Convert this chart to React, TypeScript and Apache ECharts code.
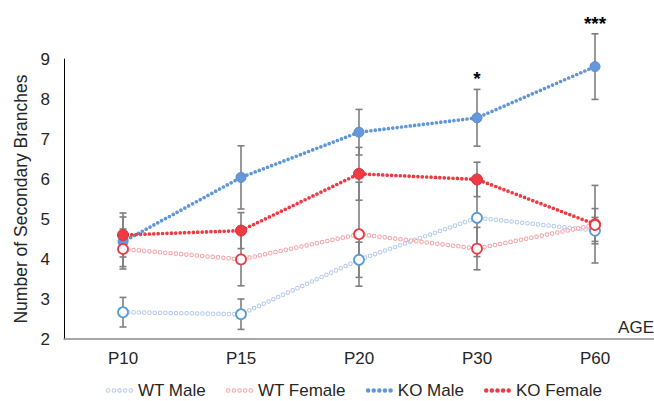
import React, { useEffect, useRef } from 'react';
import * as echarts from 'echarts';

const categories = ['P10', 'P15', 'P20', 'P30', 'P60'];
const seriesNames = ['WT Male', 'WT Female', 'KO Male', 'KO Female'];
const wtMale = [2.67, 2.62, 3.98, 5.03, 4.71];
const wtMaleErr = [0.37, 0.38, 0.44, 0.97, 0.33];
const wtFemale = [4.25, 3.99, 4.62, 4.26, 4.85];
const wtFemaleErr = [0.5, 0.66, 1.3, 0.53, 0.41];
const koMale = [4.43, 6.04, 7.17, 7.53, 8.81];
const koMaleErr = [0.62, 0.79, 0.57, 0.71, 0.82];
const koFemale = [4.6, 4.71, 6.13, 5.99, 4.87];
const koFemaleErr = [0.55, 0.45, 0.66, 0.43, 0.97];
const significance = ['', '', '', '*', '***'];
const yTicks = [2, 3, 4, 5, 6, 7, 8, 9];

const FONT = '"Liberation Sans", Arial, Helvetica, sans-serif';
const TEXT = '#262626';
const BLUE = '#5f96d8';
const BLUE_PALE = '#b4c9e9';
const RED = '#ee3a43';
const RED_PALE = '#f4a3a8';
const ERR = '#7f7f7f';

function dotsIcon(ring: boolean): string {
  let d = '';
  for (let i = 0; i < 5; i++) {
    const cx = 2.5 + i * 5.5;
    const cy = 2.5;
    const r = 2.2;
    d += `M${cx - r} ${cy}a${r} ${r} 0 1 0 ${2 * r} 0a${r} ${r} 0 1 0 ${-2 * r} 0Z`;
    if (ring) {
      const r2 = 1.25;
      d += `M${cx - r2} ${cy}a${r2} ${r2} 0 1 1 ${2 * r2} 0a${r2} ${r2} 0 1 1 ${-2 * r2} 0Z`;
    }
  }
  return 'path://' + d;
}

export default function App() {
  const ref = useRef<HTMLDivElement>(null);

  useEffect(() => {
    if (!ref.current) return;
    const chart = echarts.init(ref.current, undefined, { renderer: 'svg' });

    const values = [wtMale, wtFemale, koMale, koFemale];
    const errs = [wtMaleErr, wtFemaleErr, koMaleErr, koFemaleErr];
    const errorData: number[][] = [];
    values.forEach((vals, s) => {
      vals.forEach((v, i) => {
        errorData.push([i, v - errs[s][i], v + errs[s][i]]);
      });
    });
    const sigRows: { idx: number; top: number; text: string }[] = [];
    significance.forEach((t, i) => {
      if (t) sigRows.push({ idx: i, top: koMale[i] + koMaleErr[i], text: t });
    });

    const ringLine = (name: string, data: number[], color: string) => [
      {
        name,
        type: 'line',
        data,
        symbol: 'none',
        color,
        z: 3,
        silent: true,
        lineStyle: { color, width: 4.6, type: [0, 5.3], cap: 'round' },
      },
      {
        name: name + ' inner',
        type: 'line',
        data,
        symbol: 'none',
        color: '#ffffff',
        z: 3,
        silent: true,
        lineStyle: { color: '#ffffff', width: 2.6, type: [0, 5.3], cap: 'round' },
      },
    ];
    const dotLine = (name: string, data: number[], color: string) => ({
      name,
      type: 'line',
      data,
      symbol: 'none',
      color,
      z: 3,
      silent: true,
      lineStyle: { color, width: 3.7, type: [0, 4.4], cap: 'round' },
    });
    const markers = (
      name: string,
      data: number[],
      fill: string,
      border: string,
      bw: number,
      size: number
    ) => ({
      name: name + ' markers',
      type: 'line',
      data,
      symbol: 'circle',
      symbolSize: size,
      showSymbol: true,
      z: 4,
      silent: true,
      lineStyle: { width: 0, opacity: 0 },
      itemStyle: { color: fill, borderColor: border, borderWidth: bw },
    });

    chart.setOption({
      animation: false,
      backgroundColor: '#ffffff',
      textStyle: { fontFamily: FONT },
      grid: { left: 64, right: -5, top: 59, bottom: 62, containLabel: false },
      legend: {
        left: 106,
        top: 382,
        padding: 0,
        itemWidth: 27,
        itemHeight: 4.6,
        itemGap: 20,
        selectedMode: false,
        textStyle: { fontSize: 17, color: TEXT, fontFamily: FONT },
        data: [
          { name: seriesNames[0], icon: dotsIcon(true), itemStyle: { color: BLUE_PALE, borderWidth: 0 } },
          { name: seriesNames[1], icon: dotsIcon(true), itemStyle: { color: RED_PALE, borderWidth: 0 } },
          { name: seriesNames[2], icon: dotsIcon(false), itemStyle: { color: BLUE, borderWidth: 0 } },
          { name: seriesNames[3], icon: dotsIcon(false), itemStyle: { color: RED, borderWidth: 0 } },
        ],
      },
      xAxis: {
        type: 'category',
        data: categories,
        boundaryGap: true,
        axisLine: { show: true, lineStyle: { color: '#8c8c8c', width: 1.5 } },
        axisTick: { show: false },
        splitLine: { show: false },
        axisLabel: { fontSize: 17, color: TEXT, margin: 11, fontFamily: FONT },
      },
      yAxis: {
        type: 'value',
        min: yTicks[0],
        max: yTicks[yTicks.length - 1],
        interval: 1,
        axisLine: { show: true, lineStyle: { color: '#000000', width: 1 } },
        axisTick: { show: false },
        splitLine: { show: false },
        axisLabel: { fontSize: 17, color: TEXT, margin: 14, fontFamily: FONT },
        name: 'Number of Secondary Branches',
        nameLocation: 'middle',
        nameGap: 27,
        nameRotate: 90,
        nameTextStyle: { fontSize: 17.5, color: TEXT, fontFamily: FONT },
      },
      graphic: [
        {
          type: 'text',
          right: 0,
          top: 319,
          style: { text: 'AGE', font: `17px ${FONT}`, fill: TEXT },
        },
      ],
      series: [
        {
          name: 'error bars',
          type: 'custom',
          data: errorData,
          encode: { x: 0, y: [1, 2] },
          z: 2,
          silent: true,
          renderItem: (params: any, api: any) => {
            const idx = api.value(0);
            const lo = api.coord([idx, api.value(1)]);
            const hi = api.coord([idx, api.value(2)]);
            const w = 3.5;
            const st = { stroke: ERR, lineWidth: 1.6 };
            return {
              type: 'group',
              children: [
                { type: 'line', shape: { x1: lo[0], y1: lo[1], x2: hi[0], y2: hi[1] }, style: st },
                { type: 'line', shape: { x1: lo[0] - w, y1: lo[1], x2: lo[0] + w, y2: lo[1] }, style: st },
                { type: 'line', shape: { x1: hi[0] - w, y1: hi[1], x2: hi[0] + w, y2: hi[1] }, style: st },
              ],
            };
          },
        },
        ...ringLine(seriesNames[0], wtMale, BLUE_PALE),
        ...ringLine(seriesNames[1], wtFemale, RED_PALE),
        dotLine(seriesNames[2], koMale, BLUE),
        dotLine(seriesNames[3], koFemale, RED),
        markers(seriesNames[2], koMale, '#6598d8', '#5a8bcc', 1, 10),
        markers(seriesNames[0], wtMale, '#ffffff', '#5b9bd5', 1.8, 10),
        markers(seriesNames[3], koFemale, RED, '#d9303a', 1, 11),
        markers(seriesNames[1], wtFemale, '#ffffff', RED, 1.8, 10),
        {
          name: 'significance',
          type: 'custom',
          data: sigRows.map((r) => [r.idx, r.top]),
          encode: { x: 0, y: 1 },
          z: 5,
          silent: true,
          clip: false,
          renderItem: (params: any, api: any) => {
            const row = sigRows[params.dataIndex];
            const p = api.coord([api.value(0), api.value(1)]);
            return {
              type: 'text',
              x: p[0],
              y: p[1] - 1,
              style: {
                text: row.text,
                font: `bold 19px ${FONT}`,
                fill: '#000000',
                align: 'center',
                verticalAlign: 'bottom',
                textAlign: 'center',
                textVerticalAlign: 'bottom',
              },
            };
          },
        },
      ],
    });

    return () => {
      chart.dispose();
    };
  }, []);

  return (
    <div
      ref={ref}
      style={{ position: 'absolute', left: 0, top: 0, width: 654, height: 401 }}
    />
  );
}
